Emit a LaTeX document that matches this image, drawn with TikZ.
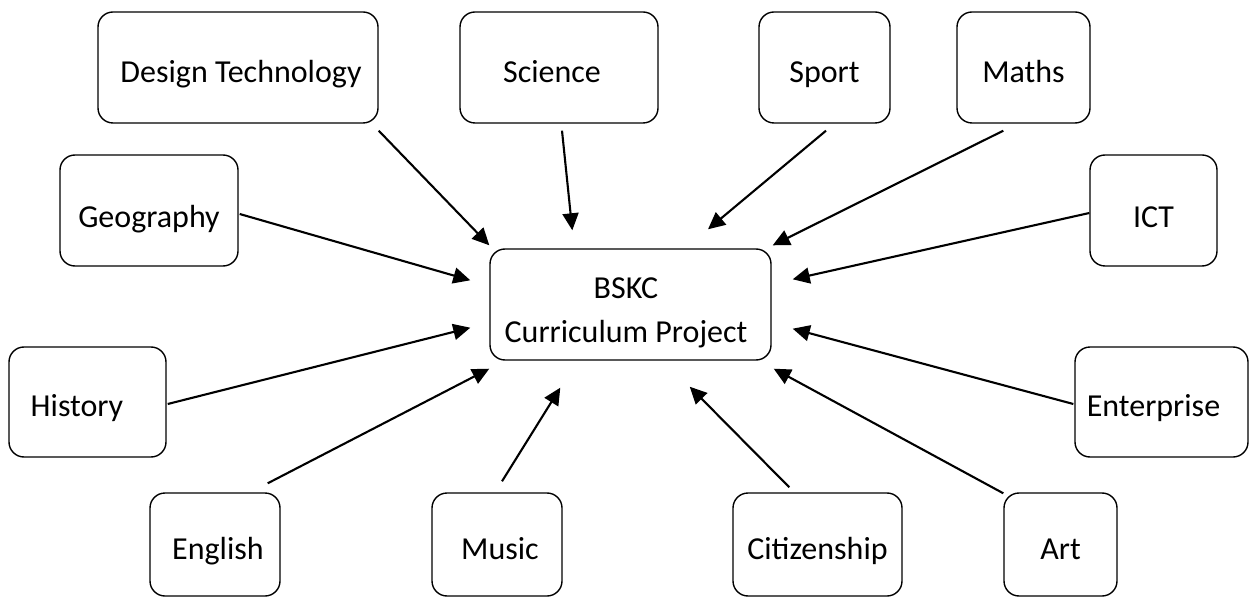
\documentclass[tikz,border=0pt]{standalone}
\usepackage{fontspec}
\setmainfont{Carlito}
\usetikzlibrary{arrows.meta,calc}
\begin{document}
\begin{tikzpicture}[x=0.5pt,y=-0.5pt,
  box/.style={draw,line width=0.7pt,rounded corners=7.5pt,inner sep=0pt,
    minimum height=55.5pt,text depth=0pt,font=\fontsize{16}{19}\selectfont},
  toprow/.style={box,text height=15.5pt},
  midrow/.style={box,text height=17.5pt},
  lowrow/.style={box,minimum height=55pt,text height=14pt},
  botrow/.style={box,minimum height=51.5pt,text height=14.5pt},
  lbl/.style={inner sep=0pt,anchor=base,font=\fontsize{16}{19}\selectfont},
  arr/.style={line width=1.05pt,-{Triangle[length=8.5pt,width=8pt]}}]
\useasboundingbox (0,0) rectangle (1251,598);
% top row
\node[toprow,minimum width=140pt] (dt) at (238,67.5) {\hspace{3pt}Design Technology};
\node[toprow,minimum width=99pt] (sci) at (559,67.5) {Science\hspace{7pt}\null};
\node[toprow,minimum width=65.5pt] (sport) at (824.5,67.5) {Sport};
\node[toprow,minimum width=66.5pt] (maths) at (1023.5,67.5) {Maths};
% second row
\node[midrow,minimum width=89pt] (geo) at (149,210.5) {Geography};
\node[midrow,minimum width=63.5pt] (ict) at (1153.5,210.5) {ICT};
% centre
\node[box,minimum width=140.5pt] (bskc) at (630.5,304.5) {};
\node[lbl] (bskc1) at (626,299) {BSKC};
\node[lbl] (bskc2) at (626,343) {Curriculum Project};
% third row
\node[lowrow,minimum width=78.5pt] (hist) at (87.5,402) {History\hspace{10.5pt}\null};
\node[lowrow,minimum width=86.5pt] (ent) at (1161.5,402) {Enterprise\hspace{8pt}\null};
% bottom row
\node[botrow,minimum width=65pt] (eng) at (215,544.5) {\hspace{3pt}English};
\node[botrow,minimum width=65pt] (mus) at (497,544.5) {\hspace{3pt}Music};
\node[botrow,minimum width=84.5pt] (cit) at (817.5,544.5) {Citizenship};
\node[botrow,minimum width=56.5pt] (art) at (1060.5,544.5) {Art};
% arrows
\draw[arr] ($(dt.south east)+(0,7)$) -- ($(bskc.north west)+(0,-3)$);
\draw[arr] ($(sci.south)+(3,7)$) -- ($(bskc.north west)+(83,-18)$);
\draw[arr] ($(sport.south)+(1.5,7)$) -- ($(bskc.north)+(77.5,-19)$);
\draw[arr] ($(maths.south west)+(47,7)$) -- ($(bskc.north east)+(1,-3)$);
\draw[arr] ($(geo.east)+(1,3.5)$) -- ($(bskc.north west)+(-19,32)$);
\draw[arr] ($(ict.west)+(0,2.5)$) -- ($(bskc.north east)+(21,31)$);
\draw[arr] ($(hist.east)+(1,2)$) -- ($(bskc.south west)+(-19,-33)$);
\draw[arr] ($(eng.north east)+(-13,-9)$) -- ($(bskc.south west)+(0,8)$);
\draw[arr] ($(mus.north)+(5,-11)$) -- ($(bskc.south west)+(71,27)$);
\draw[arr] ($(cit.north west)+(57,-5)$) -- ($(bskc.south east)+(-82,26)$);
\draw[arr] ($(art.north west)+(0,1)$) -- ($(bskc.south east)+(2,8)$);
\draw[arr] ($(ent.west)+(-1,2)$) -- ($(bskc.south east)+(21,-32)$);
\end{tikzpicture}
\end{document}
